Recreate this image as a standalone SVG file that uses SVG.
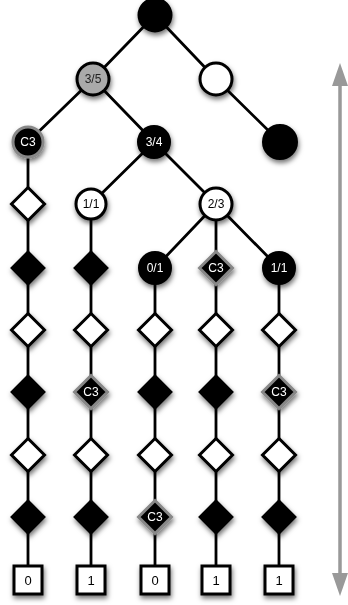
<svg xmlns="http://www.w3.org/2000/svg" width="348" height="605" viewBox="0 0 348 605">
<style>
.e{stroke:#000;stroke-width:2.8;fill:none}
.bk{fill:#000;stroke:#000;stroke-width:2}
.wh{fill:#fff;stroke:#000;stroke-width:3}
.gr{fill:#aaa;stroke:#000;stroke-width:3}
.c3{fill:#000;stroke:#888;stroke-width:3}
.sq{fill:#fff;stroke:#000;stroke-width:3}
text{font-family:"Liberation Sans",Arial,sans-serif;font-size:12px;text-anchor:middle}
.tw{fill:#fff}
.tb{fill:#000}
.tg{fill:#222}
.ts{font-size:13px;fill:#000}
</style>
<defs>
<filter id="sh" x="-50%" y="-50%" width="200%" height="200%">
<feDropShadow dx="1" dy="3" stdDeviation="2.5" flood-color="#000" flood-opacity="0.55"/>
</filter>
<path id="dw" d="M0,-16.5 L16.5,0 L0,16.5 L-16.5,0 Z"/>
</defs>
<g id="connectors">
<path class="e" d="M155,15 L93,79 M155,15 L216,79 M216,79 L280,142 M93,79 L28,142 M93,79 L154,142 M154,142 L91,204 M154,142 L216,204 M216,204 L155,268 M216,204 L216,268 M216,204 L279,268"/>
<path class="e" d="M28,142 L28,580 M91,204 L91,580 M155,268 L155,580 M216,268 L216,580 M279,268 L279,580"/>
<g id="scale-arrow">
<line x1="340" y1="82" x2="340" y2="578" stroke="#999" stroke-width="3.5"/>
<path d="M340,63 L348,86 L332,86 Z" fill="#999"/>
<path d="M340,596 L348,573 L332,573 Z" fill="#999"/>
</g>
</g>
<g filter="url(#sh)">
<g id="root"><circle class="bk" cx="155" cy="15" r="16.5"/></g>
<g id="n35"><circle class="gr" cx="93" cy="79" r="16"/><text class="tg" x="93" y="83">3/5</text></g>
<g id="nw"><circle class="wh" cx="216" cy="79" r="16"/></g>
<g id="nC3a"><circle class="c3" cx="28" cy="142" r="15"/><text class="tw" x="28" y="146">C3</text></g>
<g id="n34"><circle class="bk" cx="154" cy="142" r="16"/><text class="tw" x="154" y="146">3/4</text></g>
<g id="nbr"><circle class="bk" cx="280" cy="142" r="17"/></g>
<g id="n11a"><circle class="wh" cx="91" cy="204" r="15"/><text class="tb" x="91" y="208">1/1</text></g>
<g id="n23"><circle class="wh" cx="216" cy="204" r="16"/><text class="tb" x="216" y="208">2/3</text></g>
<g id="n01"><circle class="bk" cx="155" cy="268" r="16"/><text class="tw" x="155" y="272">0/1</text></g>
<g id="n11b"><circle class="bk" cx="279" cy="268" r="16"/><text class="tw" x="279" y="272">1/1</text></g>

<g id="c1">
<use href="#dw" class="wh" x="28" y="204"/>
<use href="#dw" class="bk" x="28" y="268"/>
<use href="#dw" class="wh" x="28" y="330"/>
<use href="#dw" class="bk" x="28" y="392"/>
<use href="#dw" class="wh" x="28" y="455"/>
<use href="#dw" class="bk" x="28" y="517"/>
<rect class="sq" x="14" y="566" width="28" height="28"/><text class="ts" x="28" y="585">0</text>
</g>
<g id="c2">
<use href="#dw" class="bk" x="91" y="268"/>
<use href="#dw" class="wh" x="91" y="330"/>
<use href="#dw" class="c3" x="91" y="392"/><text class="tw" x="91" y="396">C3</text>
<use href="#dw" class="wh" x="91" y="455"/>
<use href="#dw" class="bk" x="91" y="517"/>
<rect class="sq" x="77" y="566" width="28" height="28"/><text class="ts" x="91" y="585">1</text>
</g>
<g id="c3col">
<use href="#dw" class="wh" x="155" y="330"/>
<use href="#dw" class="bk" x="155" y="392"/>
<use href="#dw" class="wh" x="155" y="455"/>
<use href="#dw" class="c3" x="155" y="517"/><text class="tw" x="155" y="521">C3</text>
<rect class="sq" x="141" y="566" width="28" height="28"/><text class="ts" x="155" y="585">0</text>
</g>
<g id="c4">
<use href="#dw" class="c3" x="216" y="268"/><text class="tw" x="216" y="272">C3</text>
<use href="#dw" class="wh" x="216" y="330"/>
<use href="#dw" class="bk" x="216" y="392"/>
<use href="#dw" class="wh" x="216" y="455"/>
<use href="#dw" class="bk" x="216" y="517"/>
<rect class="sq" x="202" y="566" width="28" height="28"/><text class="ts" x="216" y="585">1</text>
</g>
<g id="c5">
<use href="#dw" class="wh" x="279" y="330"/>
<use href="#dw" class="c3" x="279" y="392"/><text class="tw" x="279" y="396">C3</text>
<use href="#dw" class="wh" x="279" y="455"/>
<use href="#dw" class="bk" x="279" y="517"/>
<rect class="sq" x="265" y="566" width="28" height="28"/><text class="ts" x="279" y="585">1</text>
</g>
</g>
</svg>
